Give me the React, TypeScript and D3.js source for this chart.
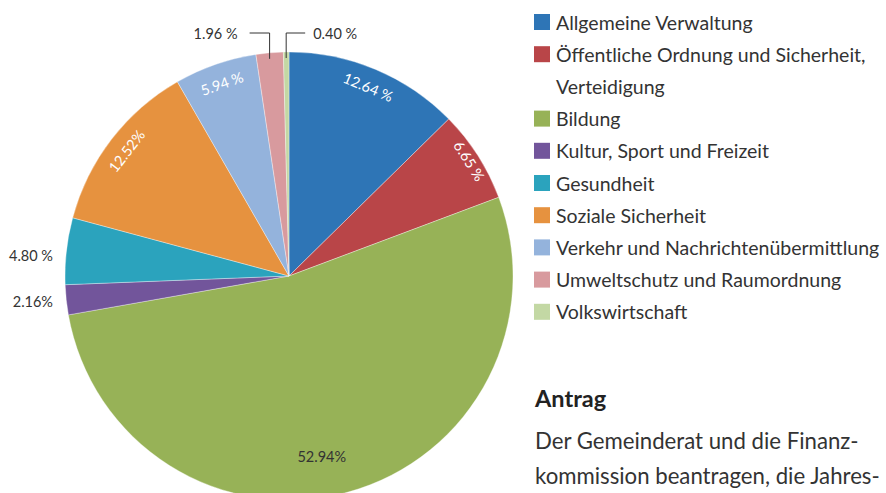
import React from "react";
import * as d3 from "d3";

const categories = [
  "Allgemeine Verwaltung",
  "Öffentliche Ordnung und Sicherheit, Verteidigung",
  "Bildung",
  "Kultur, Sport und Freizeit",
  "Gesundheit",
  "Soziale Sicherheit",
  "Verkehr und Nachrichtenübermittlung",
  "Umweltschutz und Raumordnung",
  "Volkswirtschaft",
];
const values = [12.64, 6.65, 52.94, 2.16, 4.8, 12.52, 5.94, 1.96, 0.4];
const valueLabels = ["12.64 %", "6.65 %", "52.94%", "2.16%", "4.80 %", "12.52%", "5.94 %", "1.96 %", "0.40 %"];
const legendLines = [
  ["Allgemeine Verwaltung"],
  ["Öffentliche Ordnung und Sicherheit,", "Verteidigung"],
  ["Bildung"],
  ["Kultur, Sport und Freizeit"],
  ["Gesundheit"],
  ["Soziale Sicherheit"],
  ["Verkehr und Nachrichtenübermittlung"],
  ["Umweltschutz und Raumordnung"],
  ["Volkswirtschaft"],
];
const colors = ["#2e75b6", "#b94548", "#97b257", "#72559b", "#2ba3bd", "#e6923f", "#94b3dc", "#d89a9e", "#c3d8a4"];
const textLines = ["Der Gemeinderat und die Finanz-", "kommission beantragen, die Jahres-"];

const W = 886, H = 493;
const cx = 289, cy = 276, R = 224;
const FONT = "Lato, 'Open Sans', sans-serif";

export default function App() {
  const pie = d3.pie<number>().sort(null).value((d) => d);
  const arcs = pie(values);
  const arc = d3.arc<d3.PieArcDatum<number>>().innerRadius(0).outerRadius(R);
  const deg = (a: number) => (a * 180) / Math.PI;

  const inside = [0, 1, 5, 6];
  const insideR: Record<number, number> = { 0: 0.915, 1: 0.955, 5: 0.915, 6: 0.91 };

  return (
    <svg width={W} height={H} style={{ position: "absolute", left: 0, top: 0, background: "#fff" }} fontFamily={FONT}>
      <g transform={`translate(${cx},${cy})`}>
        {arcs.map((a, i) => (
          <path key={i} d={arc(a) || ""} fill={colors[i]} stroke="#ffffff" strokeOpacity={0.35} strokeWidth={1} />
        ))}
        {arcs.map((a, i) => {
          const mid = (a.startAngle + a.endAngle) / 2;
          if (inside.includes(i)) {
            const r = R * insideR[i];
            const x = r * Math.sin(mid);
            const y = -r * Math.cos(mid);
            let rot = deg(mid);
            if (rot > 180) rot -= 360;
            return (
              <text key={i} x={x} y={y} transform={`rotate(${rot},${x},${y})`} textAnchor="middle" dominantBaseline="central" fontSize={14.5} fill="#ffffff">
                {valueLabels[i]}
              </text>
            );
          }
          if (i === 2) {
            const ang = mid + (5 * Math.PI) / 180;
            const r = R * 0.82;
            return (
              <text key={i} x={r * Math.sin(ang)} y={-r * Math.cos(ang)} textAnchor="middle" dominantBaseline="central" fontSize={14.5} fill="#333">
                {valueLabels[i]}
              </text>
            );
          }
          if (i === 3 || i === 4) {
            const r = R + 12;
            const y = -r * Math.cos(mid) + (i === 4 ? 6 : 0);
            return (
              <text key={i} x={-cx + 53} y={y} textAnchor="end" dominantBaseline="central" fontSize={14.5} fill="#333">
                {valueLabels[i]}
              </text>
            );
          }
          const px = R * Math.sin(mid);
          const py = -R * Math.cos(mid) + 6;
          const ly = 33 - cy;
          if (i === 7) {
            return (
              <g key={i}>
                <polyline points={`${px - 20},${ly} ${px},${ly} ${px},${py}`} fill="none" stroke="#333" strokeWidth={1} />
                <text x={px - 32} y={ly} textAnchor="end" dominantBaseline="central" fontSize={14.5} fill="#333">{valueLabels[i]}</text>
              </g>
            );
          }
          return (
            <g key={i}>
              <polyline points={`${px + 19},${ly} ${px},${ly} ${px},${py}`} fill="none" stroke="#333" strokeWidth={1} />
              <text x={px + 27} y={ly} textAnchor="start" dominantBaseline="central" fontSize={14.5} fill="#333">{valueLabels[i]}</text>
            </g>
          );
        })}
      </g>
      <g>
        {(() => {
          let row = 0;
          return legendLines.map((lines, i) => {
            const y0 = 22 + row * 32.2;
            row += lines.length;
            return (
              <g key={i}>
                <rect x={534} y={y0 - 8} width={16} height={16} fill={colors[i]} />
                {lines.map((l, j) => (
                  <text key={j} x={556} y={y0 + j * 32.2} dominantBaseline="central" fontSize={19.5} fill="#333">{l}</text>
                ))}
              </g>
            );
          });
        })()}
      </g>
      <text x={535} y={398} dominantBaseline="central" fontSize={23.5} fontWeight="bold" fill="#222">Antrag</text>
      {textLines.map((t, i) => (
        <text key={i} x={535} y={440 + i * 35} dominantBaseline="central" fontSize={22.2} fill="#333">{t}</text>
      ))}
    </svg>
  );
}
